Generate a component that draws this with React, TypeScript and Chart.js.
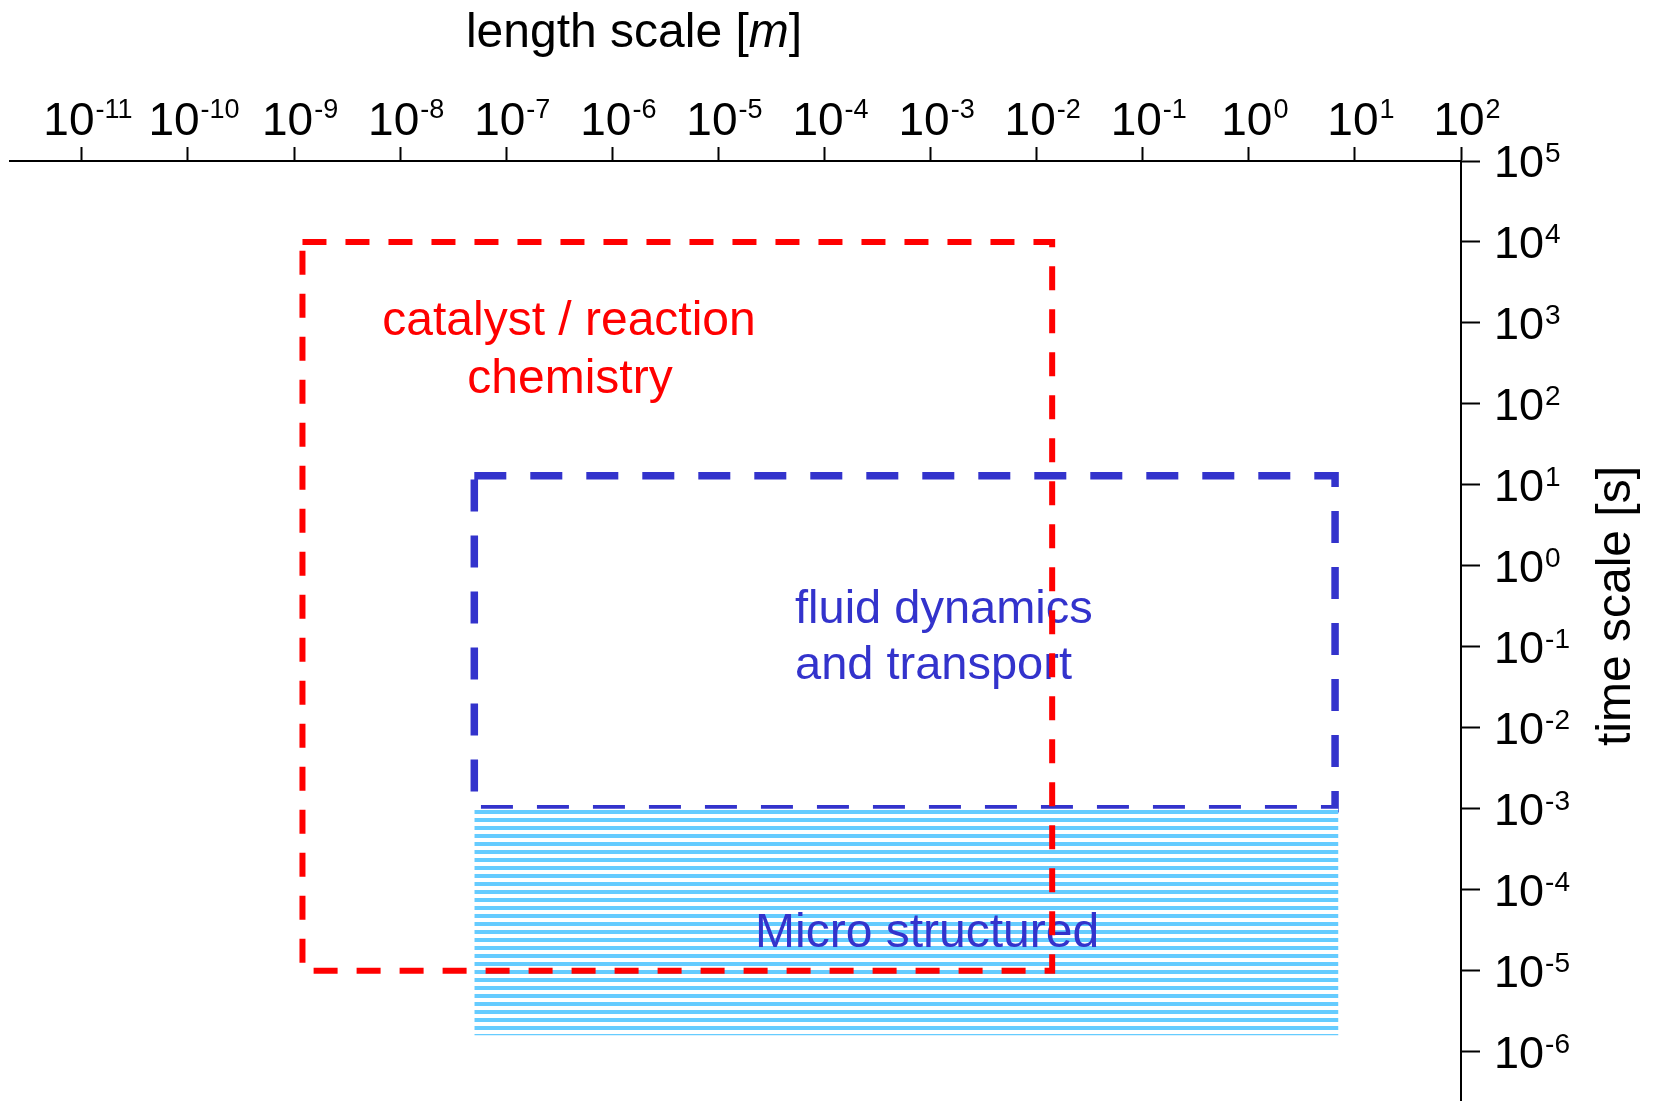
import React, { useEffect, useRef } from "react";
import { Chart, registerables } from "chart.js";

Chart.register(...registerables);

// ---- axis data ----
const X_TICK_EXPONENTS = [-11, -10, -9, -8, -7, -6, -5, -4, -3, -2, -1, 0, 1, 2];
const Y_TICK_EXPONENTS = [-6, -5, -4, -3, -2, -1, 0, 1, 2, 3, 4, 5];
const X_RANGE = [2.1e-12, 100];
const Y_RANGE = [2.46e-7, 1e5];
const X_TITLE = ["length scale [", "m", "]"];
const Y_TITLE = "time scale [s]";

// ---- regions: [min, max] in length (m) and time (s) ----
const CATALYST_X = [1.2e-9, 1.4e-2];
const CATALYST_Y = [1e-5, 1e4];
const FLUID_X = [5e-8, 6.5];
const FLUID_Y = [1e-3, 13];
const MICRO_X = [5e-8, 7];
const MICRO_Y = [1.6e-6, 1e-3];

const CATALYST_LABEL = ["catalyst / reaction", "chemistry"];
const FLUID_LABEL = ["fluid dynamics", "and transport"];
const MICRO_LABEL = ["Micro structured"];

const RED = "#FF0000";
const BLUE = "#3333CC";
const HATCH = "#66CCFF";
const FONT = "'Liberation Sans', Arial, Helvetica, sans-serif";

function rectPath(xs: number[], ys: number[]) {
  return [
    { x: xs[0], y: ys[1] },
    { x: xs[1], y: ys[1] },
    { x: xs[1], y: ys[0] },
    { x: xs[0], y: ys[0] },
    { x: xs[0], y: ys[1] },
  ];
}

function drawPower(
  ctx: CanvasRenderingContext2D,
  left: number,
  baseline: number,
  exp: number,
  baseSize: number,
  supSize: number,
  supRise: number
) {
  ctx.font = `${baseSize}px ${FONT}`;
  ctx.textAlign = "left";
  ctx.textBaseline = "alphabetic";
  ctx.fillText("10", left, baseline);
  const w = ctx.measureText("10").width;
  ctx.font = `${supSize}px ${FONT}`;
  ctx.fillText(String(exp), left + w + 1, baseline - supRise);
}

function powerWidth(ctx: CanvasRenderingContext2D, exp: number, baseSize: number, supSize: number) {
  ctx.font = `${baseSize}px ${FONT}`;
  const w1 = ctx.measureText("10").width;
  ctx.font = `${supSize}px ${FONT}`;
  const w2 = ctx.measureText(String(exp)).width;
  return w1 + 1 + w2;
}

const labelsPlugin = {
  id: "customLabels",
  beforeDatasetDraw(chart: any, args: any) {
    if (args.index !== 0) return;
    const ctx: CanvasRenderingContext2D = chart.ctx;
    ctx.save();
    ctx.textBaseline = "alphabetic";
    // catalyst label
    ctx.fillStyle = RED;
    ctx.font = `48px ${FONT}`;
    ctx.textAlign = "center";
    ctx.fillText(CATALYST_LABEL[0], 569, 335);
    ctx.fillText(CATALYST_LABEL[1], 570, 393);
    // fluid label
    ctx.fillStyle = BLUE;
    ctx.font = `47px ${FONT}`;
    ctx.textAlign = "left";
    ctx.fillText(FLUID_LABEL[0], 795, 623);
    ctx.fillText(FLUID_LABEL[1], 795, 679);
    // micro label
    ctx.font = `48px ${FONT}`;
    ctx.fillText(MICRO_LABEL[0], 755, 947);
    ctx.restore();
  },
  afterDraw(chart: any) {
    const ctx: CanvasRenderingContext2D = chart.ctx;
    const xs = chart.scales.x;
    const ys = chart.scales.y;
    const area = chart.chartArea;
    ctx.save();
    ctx.fillStyle = "#000";
    // x tick labels
    X_TICK_EXPONENTS.forEach((e) => {
      const px = xs.getPixelForValue(Math.pow(10, e));
      const w = powerWidth(ctx, e, 46, 27);
      let left = px + 6 - w / 2;
      if (left < 13) left = 13;
      drawPower(ctx, left, 135, e, 46, 27, 17);
    });
    // y tick labels
    Y_TICK_EXPONENTS.forEach((e) => {
      const py = ys.getPixelForValue(Math.pow(10, e));
      drawPower(ctx, area.right + 33, py + 16, e, 45, 28, 15);
    });
    // x title
    ctx.textAlign = "left";
    ctx.textBaseline = "alphabetic";
    const fN = `48px ${FONT}`;
    const fI = `italic 48px ${FONT}`;
    ctx.font = fN;
    const w0 = ctx.measureText(X_TITLE[0]).width;
    const w2 = ctx.measureText(X_TITLE[2]).width;
    ctx.font = fI;
    const w1 = ctx.measureText(X_TITLE[1]).width;
    let tx = 634 - (w0 + w1 + w2) / 2;
    const ty = 47;
    ctx.font = fN;
    ctx.fillText(X_TITLE[0], tx, ty);
    tx += w0;
    ctx.font = fI;
    ctx.fillText(X_TITLE[1], tx, ty);
    tx += w1;
    ctx.font = fN;
    ctx.fillText(X_TITLE[2], tx, ty);
    // y title
    ctx.translate(1630, 606);
    ctx.rotate(-Math.PI / 2);
    ctx.textAlign = "center";
    ctx.font = fN;
    ctx.fillText(Y_TITLE, 0, 0);
    ctx.restore();
  },
};

export default function App() {
  const ref = useRef<HTMLCanvasElement>(null);

  useEffect(() => {
    const canvas = ref.current;
    if (!canvas) return;
    const pc = document.createElement("canvas");
    pc.width = 8;
    pc.height = 8;
    const pctx = pc.getContext("2d")!;
    pctx.fillStyle = "#FFFFFF";
    pctx.fillRect(0, 0, 8, 8);
    pctx.fillStyle = HATCH;
    pctx.fillRect(0, 2, 8, 4);
    const ctx2 = canvas.getContext("2d")!;
    const pattern = ctx2.createPattern(pc, "repeat");

    const axisCommon = {
      type: "logarithmic" as const,
      grid: {
        display: true,
        drawOnChartArea: false,
        drawTicks: true,
        tickWidth: 2,
        tickColor: "#000",
        color: "#000",
      },
      border: { display: true, color: "#000", width: 2 },
      ticks: { display: false, autoSkip: false },
      title: { display: false },
    };

    const chart = new Chart(canvas, {
      type: "line",
      data: {
        datasets: [
          {
            label: "catalyst",
            data: rectPath(CATALYST_X, CATALYST_Y),
            borderColor: RED,
            borderWidth: 6,
            borderDash: [24, 19],
            borderCapStyle: "butt",
            borderJoinStyle: "miter",
            pointRadius: 0,
            fill: false,
            tension: 0,
          },
          {
            label: "micro-top",
            data: [
              { x: MICRO_X[0], y: MICRO_Y[1] },
              { x: MICRO_X[1], y: MICRO_Y[1] },
            ],
            borderColor: "rgba(0,0,0,0)",
            borderWidth: 0,
            backgroundColor: pattern as any,
            fill: "+1",
            pointRadius: 0,
          },
          {
            label: "micro-bottom",
            data: [
              { x: MICRO_X[0], y: MICRO_Y[0] },
              { x: MICRO_X[1], y: MICRO_Y[0] },
            ],
            borderColor: "rgba(0,0,0,0)",
            borderWidth: 0,
            fill: false,
            pointRadius: 0,
          },
          {
            label: "fluid",
            data: rectPath(FLUID_X, FLUID_Y),
            borderColor: BLUE,
            borderWidth: 7.5,
            borderDash: [32, 24],
            borderCapStyle: "butt",
            borderJoinStyle: "miter",
            pointRadius: 0,
            fill: false,
            tension: 0,
          },
        ],
      },
      options: {
        responsive: false,
        devicePixelRatio: 1,
        animation: false,
        events: [],
        layout: {
          autoPadding: false,
          padding: { left: 10, top: 147, right: 174, bottom: 0 },
        },
        plugins: {
          legend: { display: false },
          tooltip: { enabled: false },
        },
        scales: {
          x: {
            ...axisCommon,
            position: "top",
            min: X_RANGE[0],
            max: X_RANGE[1],
            grid: { ...axisCommon.grid, tickLength: 14 },
            afterBuildTicks: (scale: any) => {
              scale.ticks = X_TICK_EXPONENTS.map((e) => ({ value: Math.pow(10, e) }));
            },
          },
          y: {
            ...axisCommon,
            position: "right",
            min: Y_RANGE[0],
            max: Y_RANGE[1],
            grid: { ...axisCommon.grid, tickLength: 19 },
            afterBuildTicks: (scale: any) => {
              scale.ticks = Y_TICK_EXPONENTS.map((e) => ({ value: Math.pow(10, e) }));
            },
          },
        },
      } as any,
      plugins: [labelsPlugin],
    });
    return () => chart.destroy();
  }, []);

  return (
    <div
      style={{
        position: "fixed",
        left: 0,
        top: 0,
        width: 1654,
        height: 1101,
        background: "#ffffff",
      }}
    >
      <canvas
        ref={ref}
        width={1654}
        height={1101}
        style={{ display: "block", width: 1654, height: 1101 }}
      />
    </div>
  );
}
